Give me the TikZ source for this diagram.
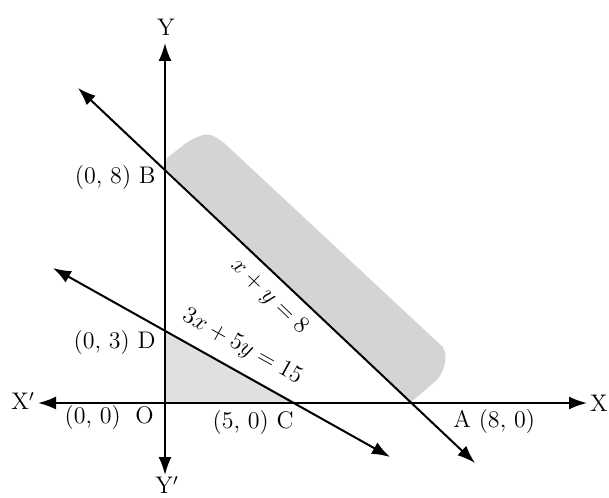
\documentclass[tikz,border=0pt]{standalone}
\usepackage{amsmath}
\usetikzlibrary{arrows.meta}
\tikzset{
  axisline/.style={line width=1pt,{Latex[length=9pt,width=6.5pt]}-{Latex[length=9pt,width=6.5pt]}},
  graphline/.style={line width=1pt,{Latex[length=9pt,width=6.5pt]}-{Latex[length=9pt,width=6.5pt]}},
  lbl/.style={font=\large,inner sep=1pt},
}
\begin{document}
\begin{tikzpicture}[x=0.5pt,y=-0.5pt]
  \useasboundingbox (0,0) rectangle (609,497);
  \coordinate (O) at (165,403);
  \coordinate (B) at (165,168);
  \coordinate (D) at (165,330);
  \coordinate (C) at (297,403);
  \coordinate (A) at (410,403);
  \coordinate (Xp) at (38,403);
  \coordinate (X) at (587,403);
  \coordinate (Y) at (165,43);
  \coordinate (Yp) at (165,475);
  \coordinate (l1s) at (78,88);
  \coordinate (l1e) at (475,463);
  \coordinate (l2s) at (53,268);
  \coordinate (l2e) at (390,457);
  \fill[black!17] (B) -- (167,158) [rounded corners=3pt] -- (190,140) -- (208,133) -- (222,141)
    -- (446,350) [rounded corners=6pt] -- (444,374) [sharp corners] -- (A) -- cycle;
  \fill[black!12] (O) -- (D) -- (C) -- cycle;
  \draw[axisline] (Xp) -- (X);
  \draw[axisline] (Yp) -- (Y);
  \draw[graphline] (l1s) -- (l1e);
  \draw[graphline] (l2s) -- (l2e);
  \node[lbl] (labY) at (166,27) {Y};
  \node[lbl] (labYp) at (167,485) {Y$'$};
  \node[lbl] (labX) at (599,403) {X};
  \node[lbl] (labXp) at (23,401) {X$'$};
  \node[lbl,anchor=east] (labB) at (158,178) {(0, 8) B};
  \node[lbl,anchor=east] (labD) at (158,343) {(0, 3) D};
  \node[lbl,anchor=east] (labO) at (156,418) {(0, 0)\; O};
  \node[lbl,anchor=east] (labC) at (296,423) {(5, 0) C};
  \node[lbl,anchor=west] (labA) at (451,422) {A (8, 0)};
  \node[lbl,inner sep=0pt,rotate=-44] (eq1) at (269,297) {$x + y = 8$};
  \node[lbl,inner sep=0pt,rotate=-29] (eq2) at (242,347) {$3x + 5y = 15$};
\end{tikzpicture}
\end{document}
